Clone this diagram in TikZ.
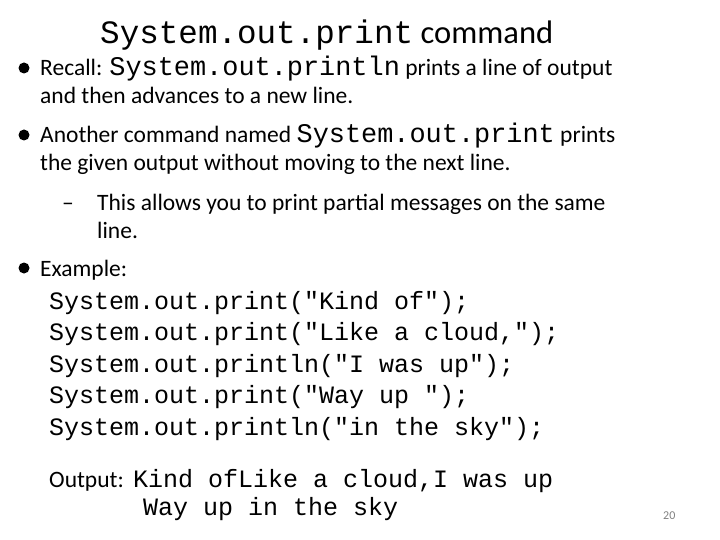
\documentclass[tikz,border=0pt]{standalone}
\usepackage{fontspec}
\setmainfont{Carlito}
\setmonofont{Liberation Mono}
\begin{document}
\begin{tikzpicture}[x=1pt,y=-1pt,
  t/.style={anchor=base west,inner sep=0pt,font=\fontsize{23.5}{28}\selectfont},
  c/.style={anchor=base west,inner sep=0pt,font=\fontsize{25}{28}\ttfamily},
  bul/.style={fill=black,circle,inner sep=0pt,minimum size=11pt}]
\useasboundingbox (0,0) rectangle (720,540);
\node[t,font=\fontsize{32.6}{36}\selectfont] (title) at (100,44) {\texttt{System.out.print} command};
\node[bul] (b1) at (24,68) {};
\node[t] (l1) at (40,76) {Recall: {\fontsize{26.9}{28}\ttfamily System.out.println} prints a line of output};
\node[t] (l2) at (40,104) {and then advances to a new line.};
\node[bul] (b2) at (24,135) {};
\node[t] (l3) at (40,143) {Another command named {\fontsize{26.9}{28}\ttfamily System.out.print} prints};
\node[t] (l4) at (40,171) {the given output without moving to the next line.};
\node[t] (d1) at (62,211) {–};
\node[t] (l5) at (97,211) {This allows you to print partial messages on the same};
\node[t] (l6) at (97,238) {line.};
\node[bul] (b3) at (24,268) {};
\node[t] (l7) at (40,276) {Example:};
\node[c] (k1) at (49,309) {System.out.print("Kind of");};
\node[c] (k2) at (49,340) {System.out.print("Like a cloud,");};
\node[c] (k3) at (49,372) {System.out.println("I was up");};
\node[c] (k4) at (49,403) {System.out.print("Way up ");};
\node[c] (k5) at (49,435) {System.out.println("in the sky");};
\node[t] (o0) at (49,487) {Output:};
\node[c] (o1) at (133,487) {Kind ofLike a cloud,I was up};
\node[c] (o2) at (143,515) {Way up in the sky};
\node[anchor=base west,inner sep=0pt,font=\fontsize{12}{14}\selectfont,text=gray] (pg) at (663,519) {20};
\end{tikzpicture}
\end{document}
